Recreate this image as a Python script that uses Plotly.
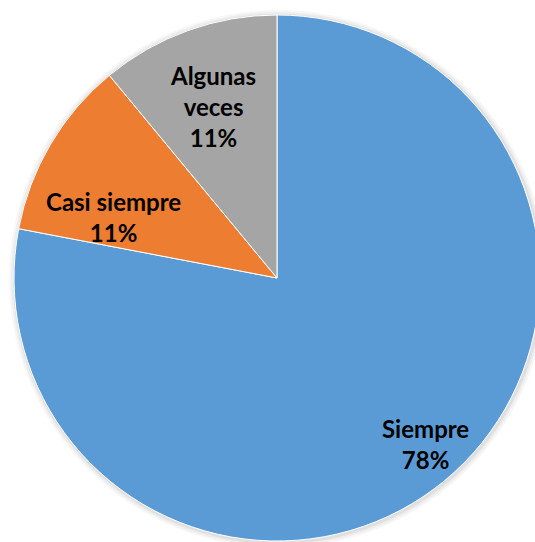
import plotly.graph_objects as go

labels = ["Siempre", "Casi siempre", "Algunas veces"]
label_display = ["Siempre", "Casi siempre", "Algunas<br>veces"]
values = [78, 11, 11]
pct_labels = ["78%", "11%", "11%"]
colors = ["#5B9BD5", "#ED7D31", "#A5A5A5"]

W, H = 560, 560
CX, CY, R = 277, 278, 263
# label anchor positions (pixels from top-left) for each slice
label_px = [425, 113, 213]
label_py = [444, 217, 106]


def domain_for(cx, cy, r):
    return dict(x=[(cx - r) / W, (cx + r) / W], y=[(H - cy - r) / H, (H - cy + r) / H])


fig = go.Figure()

# soft shadow layers behind the pie
for extra, alpha in [(6, 0.03), (4, 0.04), (2, 0.06)]:
    fig.add_trace(go.Pie(
        values=[sum(values)],
        labels=["shadow"],
        sort=False,
        marker=dict(colors=[f"rgba(0,0,0,{alpha})"], line=dict(width=0)),
        textinfo="none",
        hoverinfo="skip",
        domain=domain_for(CX + 1, CY + 1, R + extra),
        showlegend=False,
    ))

fig.add_trace(go.Pie(
    labels=labels,
    values=values,
    sort=False,
    direction="clockwise",
    rotation=0,
    marker=dict(colors=colors, line=dict(color="white", width=1)),
    textinfo="none",
    hoverinfo="label+percent",
    domain=domain_for(CX, CY, R),
    showlegend=False,
))

for lab, pct, px, py in zip(label_display, pct_labels, label_px, label_py):
    fig.add_annotation(
        x=px / W, y=1 - py / H, xref="paper", yref="paper",
        text=f"<b>{lab}<br>{pct}</b>",
        showarrow=False,
        xanchor="center", yanchor="middle",
        font=dict(family="Lato", size=24, color="black"),
        align="center",
    )

fig.update_layout(
    width=W, height=H,
    autosize=False,
    margin=dict(l=0, r=0, t=0, b=0),
    paper_bgcolor="white",
    plot_bgcolor="white",
)

post = (
    "document.documentElement.style.overflow='hidden';"
    "document.body.style.margin='0';"
    "document.body.style.overflow='hidden';"
)
fig.write_html("out.html", post_script=post, config={"displayModeBar": False})
